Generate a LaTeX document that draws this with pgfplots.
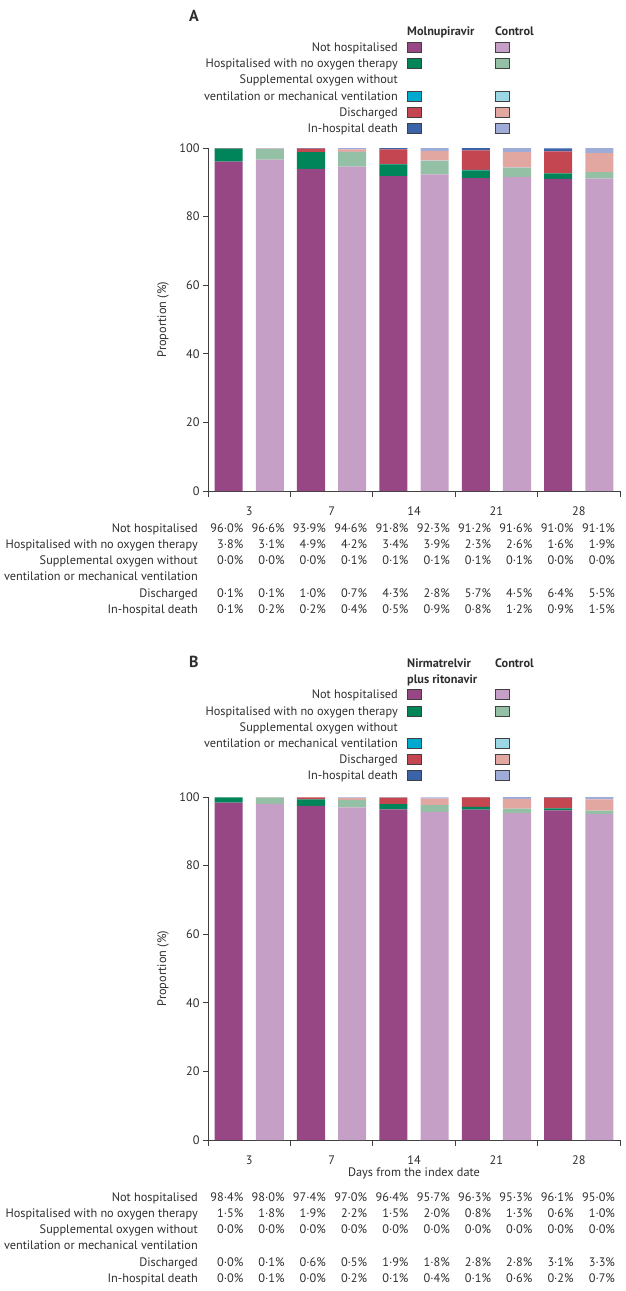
\documentclass[border=0pt]{standalone}
\usepackage{pgfplots}
\usepackage{pgfplotstable}
\pgfplotsset{compat=1.18}
\usepackage{fontspec}
\setmainfont{PT Sans}
\definecolor{mP}{HTML}{964784}
\definecolor{mG}{HTML}{00845A}
\definecolor{mC}{HTML}{00A9CE}
\definecolor{mR}{HTML}{C34650}
\definecolor{mB}{HTML}{3B64A8}
\definecolor{cP}{HTML}{C59FC5}
\definecolor{cG}{HTML}{94C1A5}
\definecolor{cC}{HTML}{9CD7E6}
\definecolor{cR}{HTML}{E2A7A1}
\definecolor{cB}{HTML}{A0ACD8}
\definecolor{txt}{HTML}{2E2E2E}
\definecolor{axc}{HTML}{404040}
\newcommand\fs{\fontsize{12.3bp}{14bp}\selectfont}

% Panel A: molnupiravir (even x) and control (odd x), days 3,7,14,21,28
\pgfplotstableread{
x  mNH  mHO  mSO  mDC  mDE  cNH  cHO  cSO  cDC  cDE
0  96.0 3.8  0.0  0.1  0.1  0    0    0    0    0
1  0    0    0    0    0    96.6 3.1  0.0  0.1  0.2
2  93.9 4.9  0.0  1.0  0.2  0    0    0    0    0
3  0    0    0    0    0    94.6 4.2  0.1  0.7  0.4
4  91.8 3.4  0.1  4.3  0.5  0    0    0    0    0
5  0    0    0    0    0    92.3 3.9  0.1  2.8  0.9
6  91.2 2.3  0.1  5.7  0.8  0    0    0    0    0
7  0    0    0    0    0    91.6 2.6  0.1  4.5  1.2
8  91.0 1.6  0.0  6.4  0.9  0    0    0    0    0
9  0    0    0    0    0    91.1 1.9  0.0  5.5  1.5
}\dataA
% Panel B: nirmatrelvir plus ritonavir (even x) and control (odd x)
\pgfplotstableread{
x  mNH  mHO  mSO  mDC  mDE  cNH  cHO  cSO  cDC  cDE
0  98.4 1.5  0.0  0.0  0.0  0    0    0    0    0
1  0    0    0    0    0    98.0 1.8  0.0  0.1  0.1
2  97.4 1.9  0.0  0.6  0.0  0    0    0    0    0
3  0    0    0    0    0    97.0 2.2  0.0  0.5  0.2
4  96.4 1.5  0.0  1.9  0.1  0    0    0    0    0
5  0    0    0    0    0    95.7 2.0  0.0  1.8  0.4
6  96.3 0.8  0.0  2.8  0.1  0    0    0    0    0
7  0    0    0    0    0    95.3 1.3  0.0  2.8  0.6
8  96.1 0.6  0.0  3.1  0.2  0    0    0    0    0
9  0    0    0    0    0    95.0 1.0  0.0  3.3  0.7
}\dataB

\pgfplotsset{
  myaxis/.style={
    scale only axis, width=412bp, height=343bp,
    anchor=south west,
    xmin=-0.5, xmax=9.5, ymin=0, ymax=100,
    axis line style={draw=none},
    tick pos=left,
    clip mode=individual,
    ytick={0,20,...,100},
    xtick={0.5,2.5,4.5,6.5,8.5},
    xticklabels={3,7,14,21,28},
    minor xtick={-0.5,1.5,3.5,5.5,7.5,9.5},
    major x tick style={draw=none},
    tick align=outside,
    tick style={draw=axc, line width=0.8bp},
    major tick length=5bp, minor tick length=6bp,
    ybar stacked, bar width=0.68, bar shift=0pt,
    tick label style={font=\fs, text=txt},
    xticklabel style={anchor=base, yshift=-19.3bp},
    /pgf/number format/assume math mode=true,
    ylabel={Proportion (\%)},
    ylabel style={font=\fs, text=txt, at={(axis description cs:-0.109,0.5)}, anchor=center},
  },
}

\newcommand\trow[3]{%
  \node[anchor=base east] at (198,#1) {#2};
  \foreach \v [count=\i from 0] in {#3} \node[anchor=base east] at ({243.5+41.3*\i},#1) {\v\%};
}
\newcommand\lrow[2]{%
  \node[anchor=base east] at (398,#1+4) {#2};
}
\newcommand\sw[3]{%
  \filldraw[fill=#2, draw=axc, line width=0.6bp] (407,#1-5) rectangle (421,#1+5);
  \filldraw[fill=#3, draw=axc, line width=0.6bp] (495,#1-5) rectangle (509,#1+5);
}
\newcommand\axlines{\draw[axc, line width=0.8bp] (rel axis cs:0,1) -- (rel axis cs:0,0) -- (rel axis cs:1,0);}

\begin{document}
\begin{tikzpicture}
\path[use as bounding box] (0,0) rectangle (626bp,-1291bp);

% ---------- Panel A ----------
\begin{axis}[myaxis, at={(208bp,-491bp)}]
\addplot[fill=mP, draw=none] table[x=x, y=mNH]{\dataA};
\addplot[fill=mG, draw=none] table[x=x, y=mHO]{\dataA};
\addplot[fill=mC, draw=none] table[x=x, y=mSO]{\dataA};
\addplot[fill=mR, draw=none] table[x=x, y=mDC]{\dataA};
\addplot[fill=mB, draw=none] table[x=x, y=mDE]{\dataA};
\addplot[fill=cP, draw=none] table[x=x, y=cNH]{\dataA};
\addplot[fill=cG, draw=none] table[x=x, y=cHO]{\dataA};
\addplot[fill=cC, draw=none] table[x=x, y=cSO]{\dataA};
\addplot[fill=cR, draw=none] table[x=x, y=cDC]{\dataA};
\addplot[fill=cB, draw=none] table[x=x, y=cDE]{\dataA};
\axlines
\end{axis}

% ---------- Panel B ----------
\begin{axis}[myaxis, at={(208bp,-1140bp)},
  xlabel={Days from the index date},
  xlabel style={font=\fs, text=txt, at={(axis description cs:0.5,-0.105)}, anchor=base}]
\addplot[fill=mP, draw=none] table[x=x, y=mNH]{\dataB};
\addplot[fill=mG, draw=none] table[x=x, y=mHO]{\dataB};
\addplot[fill=mC, draw=none] table[x=x, y=mSO]{\dataB};
\addplot[fill=mR, draw=none] table[x=x, y=mDC]{\dataB};
\addplot[fill=mB, draw=none] table[x=x, y=mDE]{\dataB};
\addplot[fill=cP, draw=none] table[x=x, y=cNH]{\dataB};
\addplot[fill=cG, draw=none] table[x=x, y=cHO]{\dataB};
\addplot[fill=cC, draw=none] table[x=x, y=cSO]{\dataB};
\addplot[fill=cR, draw=none] table[x=x, y=cDC]{\dataB};
\addplot[fill=cB, draw=none] table[x=x, y=cDE]{\dataB};
\axlines
\end{axis}

\begin{scope}[x=1bp, y=-1bp, every node/.style={font=\fs, text=txt, inner sep=0pt}]
% Panel A legend
\node[anchor=base west, font=\fontsize{16bp}{18bp}\selectfont\bfseries] at (189,21) {A};
\node[anchor=base west, font=\fs\bfseries] at (407,35) {Molnupiravir};
\node[anchor=base west, font=\fs\bfseries] at (495,35) {Control};
\lrow{47}{Not hospitalised}
\lrow{63}{Hospitalised with no oxygen therapy}
\lrow{79}{Supplemental oxygen without}
\lrow{96}{ventilation or mechanical ventilation}
\lrow{112}{Discharged}
\lrow{128}{In-hospital death}
\sw{47}{mP}{cP}
\sw{63}{mG}{cG}
\sw{96}{mC}{cC}
\sw{112}{mR}{cR}
\sw{128}{mB}{cB}
% Panel A table
\trow{532}{Not hospitalised}{96·0,96·6,93·9,94·6,91·8,92·3,91·2,91·6,91·0,91·1}
\trow{548}{Hospitalised with no oxygen therapy}{3·8,3·1,4·9,4·2,3·4,3·9,2·3,2·6,1·6,1·9}
\trow{564}{Supplemental oxygen without}{0·0,0·0,0·0,0·1,0·1,0·1,0·1,0·1,0·0,0·0}
\node[anchor=base east] at (198,580) {ventilation or mechanical ventilation};
\trow{597}{Discharged}{0·1,0·1,1·0,0·7,4·3,2·8,5·7,4·5,6·4,5·5}
\trow{613}{In-hospital death}{0·1,0·2,0·2,0·4,0·5,0·9,0·8,1·2,0·9,1·5}

% Panel B legend
\node[anchor=base west, font=\fontsize{16bp}{18bp}\selectfont\bfseries] at (189,667) {B};
\node[anchor=base west, font=\fs\bfseries] at (407,667) {Nirmatrelvir};
\node[anchor=base west, font=\fs\bfseries] at (407,683) {plus ritonavir};
\node[anchor=base west, font=\fs\bfseries] at (495,667) {Control};
\lrow{694}{Not hospitalised}
\lrow{711}{Hospitalised with no oxygen therapy}
\lrow{727}{Supplemental oxygen without}
\lrow{743}{ventilation or mechanical ventilation}
\lrow{759}{Discharged}
\lrow{775}{In-hospital death}
\sw{694}{mP}{cP}
\sw{711}{mG}{cG}
\sw{743}{mC}{cC}
\sw{759}{mR}{cR}
\sw{775}{mB}{cB}
% Panel B table
\trow{1201}{Not hospitalised}{98·4,98·0,97·4,97·0,96·4,95·7,96·3,95·3,96·1,95·0}
\trow{1217}{Hospitalised with no oxygen therapy}{1·5,1·8,1·9,2·2,1·5,2·0,0·8,1·3,0·6,1·0}
\trow{1233}{Supplemental oxygen without}{0·0,0·0,0·0,0·0,0·0,0·0,0·0,0·0,0·0,0·0}
\node[anchor=base east] at (198,1249) {ventilation or mechanical ventilation};
\trow{1266}{Discharged}{0·0,0·1,0·6,0·5,1·9,1·8,2·8,2·8,3·1,3·3}
\trow{1282}{In-hospital death}{0·0,0·1,0·0,0·2,0·1,0·4,0·1,0·6,0·2,0·7}
\end{scope}
\end{tikzpicture}
\end{document}
